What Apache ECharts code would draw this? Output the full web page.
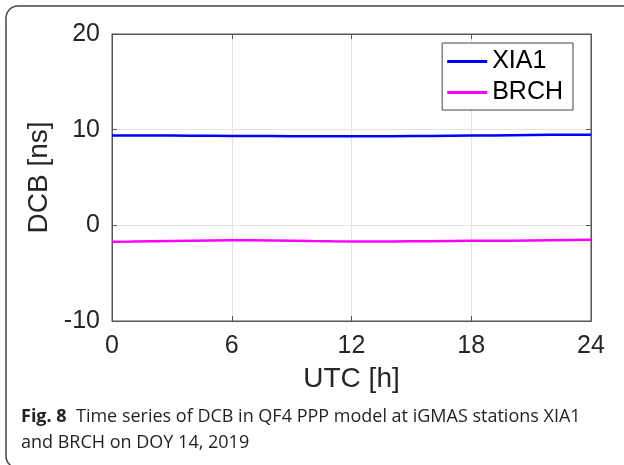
<!DOCTYPE html>
<html>
<head>
<meta charset="utf-8">
<script src="https://cdn.jsdelivr.net/npm/echarts@6/dist/echarts.min.js"></script>
<style>html,body{margin:0;padding:0;background:#fff;}#c{width:624px;height:465px;}</style>
</head>
<body>
<div id="c"></div>
<script>
var hours = [0,1,2,3,4,5,6,7,8,9,10,11,12,13,14,15,16,17,18,19,20,21,22,23,24];
var xia1 = [9.40,9.40,9.38,9.38,9.37,9.36,9.35,9.34,9.33,9.32,9.32,9.31,9.31,9.31,9.32,9.33,9.34,9.36,9.38,9.40,9.42,9.44,9.46,9.47,9.48];
var brch = [-1.72,-1.70,-1.67,-1.64,-1.61,-1.58,-1.56,-1.57,-1.59,-1.62,-1.65,-1.67,-1.68,-1.68,-1.68,-1.67,-1.66,-1.64,-1.62,-1.61,-1.60,-1.58,-1.56,-1.54,-1.52];
var xTicks = [0,6,12,18,24];
var yTicks = [-10,0,10,20];
var seriesNames = ['XIA1','BRCH'];
var captionBold = 'Fig. 8';
var captionLine1 = 'Time series of DCB in QF4 PPP model at iGMAS stations XIA1';
var captionLine2 = 'and BRCH on DOY 14, 2019';

function pairs(xs, ys){ return xs.map(function(x,i){ return [x, ys[i]]; }); }

var axisColor = '#555';
var font = 'Liberation Sans';
var capFont = 'Open Sans';
var chart = echarts.init(document.getElementById('c'), null, {renderer:'canvas'});
chart.setOption({
  animation:false,
  backgroundColor:'#fff',
  grid:{left:112, top:34, width:479, height:287, show:true, borderColor:axisColor, borderWidth:1, backgroundColor:'transparent'},
  legend:{
    orient:'vertical', right:51, top:43,
    data:seriesNames.map(function(n){ return {name:n, icon:'rect'}; }),
    itemWidth:40, itemHeight:3, itemGap:6, itemTextGap:4,
    padding:[6,10,5,5],
    borderColor:'#444', borderWidth:1, backgroundColor:'#fff',
    textStyle:{fontFamily:font, fontSize:25, color:'#000', lineHeight:25}
  },
  xAxis:[{
    type:'value', min:xTicks[0], max:xTicks[xTicks.length-1], interval:6,
    name:'UTC [h]', nameLocation:'middle', nameGap:44,
    nameTextStyle:{fontFamily:font, fontSize:28, color:'#262626'},
    axisLine:{show:true, onZero:false, lineStyle:{color:axisColor}},
    axisTick:{show:true, inside:true, length:5, lineStyle:{color:axisColor}},
    axisLabel:{fontFamily:font, fontSize:25, color:'#262626', margin:13},
    splitLine:{show:true, lineStyle:{color:'#e3e3e3', width:1}}
  },{
    type:'value', position:'top', min:xTicks[0], max:xTicks[xTicks.length-1], interval:6,
    axisLine:{show:true, onZero:false, lineStyle:{color:axisColor}},
    axisTick:{show:true, inside:true, length:5, lineStyle:{color:axisColor}},
    axisLabel:{show:false}, splitLine:{show:false}
  }],
  yAxis:[{
    type:'value', min:yTicks[0], max:yTicks[yTicks.length-1], interval:10,
    name:'DCB [ns]', nameLocation:'middle', nameGap:49, nameRotate:90,
    nameTextStyle:{fontFamily:font, fontSize:28, color:'#262626'},
    axisLine:{show:true, onZero:false, lineStyle:{color:axisColor}},
    axisTick:{show:true, inside:true, length:5, lineStyle:{color:axisColor}},
    axisLabel:{fontFamily:font, fontSize:25, color:'#262626', margin:12},
    splitLine:{show:true, lineStyle:{color:'#e3e3e3', width:1}}
  },{
    type:'value', position:'right', min:yTicks[0], max:yTicks[yTicks.length-1], interval:10,
    axisLine:{show:true, onZero:false, lineStyle:{color:axisColor}},
    axisTick:{show:true, inside:true, length:5, lineStyle:{color:axisColor}},
    axisLabel:{show:false}, splitLine:{show:false}
  }],
  series:[{
    name:seriesNames[0], type:'line', data:pairs(hours, xia1), showSymbol:false, symbol:'none',
    lineStyle:{color:'#0000ff', width:2.5}, itemStyle:{color:'#0000ff'}, z:3
  },{
    name:seriesNames[1], type:'line', data:pairs(hours, brch), showSymbol:false, symbol:'none',
    lineStyle:{color:'#ff00ff', width:2.5}, itemStyle:{color:'#ff00ff'}, z:3
  }],
  graphic:[{
    type:'rect', silent:true, z:-1,
    shape:{x:6, y:6, width:660, height:462, r:12},
    style:{fill:null, stroke:'#444', lineWidth:1.5}
  },{
    type:'text', left:21, top:408,
    style:{
      rich:{
        b:{fontFamily:capFont, fontWeight:'bold', fontSize:18, fill:'#231f20'},
        n:{fontFamily:capFont, fontSize:18, fill:'#231f20'}
      },
      text:'{b|' + captionBold + '}{n|  ' + captionLine1 + '}'
    }
  },{
    type:'text', left:21, top:434,
    style:{fontFamily:capFont, fontSize:18, fill:'#231f20', text:captionLine2}
  }]
});
</script>
</body>
</html>
